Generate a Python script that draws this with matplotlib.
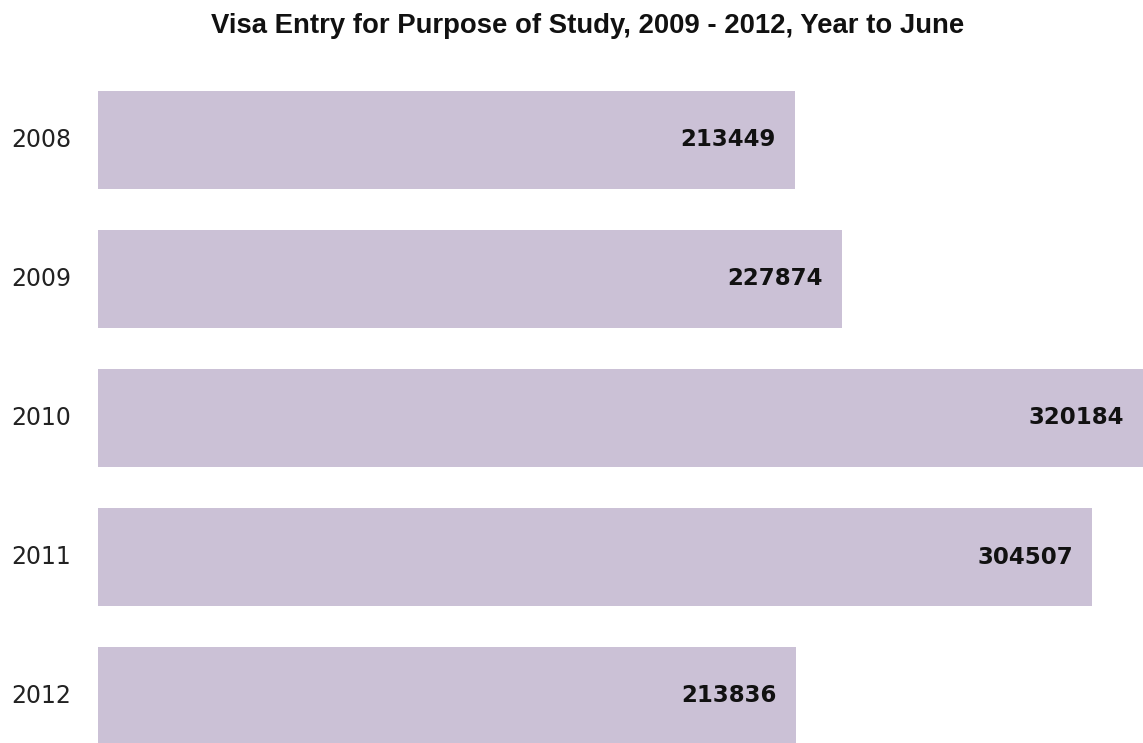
import matplotlib
matplotlib.use("Agg")
import matplotlib.pyplot as plt
from matplotlib.transforms import blended_transform_factory

years = ["2008", "2009", "2010", "2011", "2012"]
entries = [213449, 227874, 320184, 304507, 213836]

BAR_COLOR = "#cbc1d6"
W, H = 1143, 743

fig = plt.figure(figsize=(W / 100, H / 100), dpi=100)
# axes spans from the bar start to the right edge, below the title
ax = fig.add_axes([98 / W, 0, 1 - 98 / W, (H - 70) / H])

pos = list(range(len(years)))
ax.barh(pos, entries, height=0.705, color=BAR_COLOR, edgecolor="none")
ax.set_xlim(0, 320184)
ax.set_ylim((743 - 140) / 139, -70 / 139)

for p, v in zip(pos, entries):
    ax.annotate(str(v), xy=(v, p), xytext=(-19, 0), textcoords="offset pixels",
                ha="right", va="center", fontsize=16.5, fontweight="bold",
                family="DejaVu Sans", color="#111111")

# year labels sit at the far left of the figure
trans = blended_transform_factory(fig.transFigure, ax.transData)
for p, y in zip(pos, years):
    ax.text(11 / W, p, y, transform=trans, ha="left", va="center",
            fontsize=17, family="DejaVu Sans", color="#222222")

ax.set_xticks([])
ax.set_yticks([])
for s in ax.spines.values():
    s.set_visible(False)

fig.text(588 / W, 1 - 26 / H, "Visa Entry for Purpose of Study, 2009 - 2012, Year to June",
         ha="center", va="center", fontsize=19.8, fontweight="bold",
         family="Liberation Sans", color="#111111")

fig.savefig("out.png", dpi=100)
